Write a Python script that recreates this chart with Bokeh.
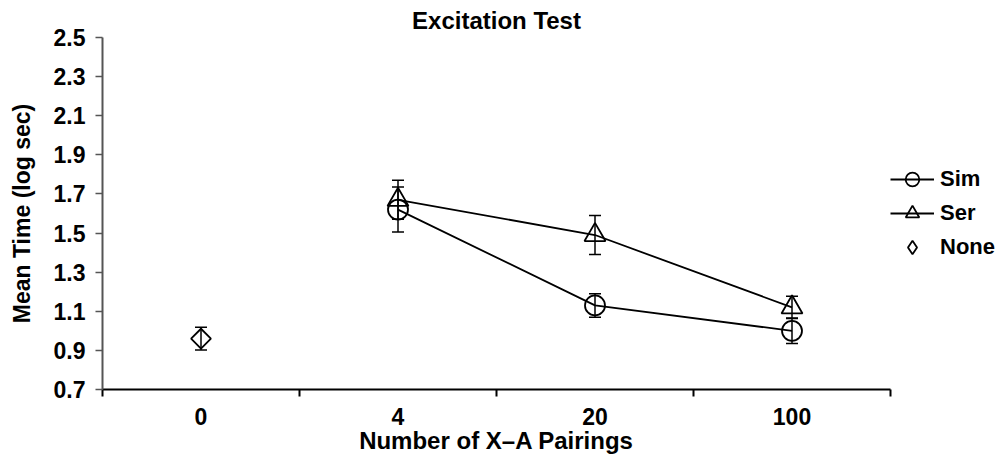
import math
from bokeh.plotting import figure
from bokeh.models import (Range1d, FixedTicker, PrintfTickFormatter, Whisker,
                          ColumnDataSource, Legend, LegendItem, TeeHead)
from bokeh.embed import file_html
from bokeh.resources import INLINE

categories = ["0", "4", "20", "100"]
sim_cats = ["4", "20", "100"]
sim_mean = [1.62, 1.13, 1.00]
sim_err = [0.115, 0.06, 0.065]
ser_cats = ["4", "20", "100"]
ser_mean = [1.67, 1.49, 1.12]
ser_err = [0.10, 0.10, 0.057]
none_cats = ["0"]
none_mean = [0.96]
none_err = [0.058]
y_ticks = [0.7, 0.9, 1.1, 1.3, 1.5, 1.7, 1.9, 2.1, 2.3, 2.5]

FONT = "Liberation Sans"
pos = {c: i + 0.5 for i, c in enumerate(categories)}


def src(cats, mean, err):
    return ColumnDataSource(dict(
        x=[pos[c] for c in cats], y=mean,
        upper=[m + e for m, e in zip(mean, err)],
        lower=[m - e for m, e in zip(mean, err)]))


s_sim = src(sim_cats, sim_mean, sim_err)
s_ser = src(ser_cats, ser_mean, ser_err)
s_none = src(none_cats, none_mean, none_err)

p = figure(frame_width=788, frame_height=352, output_backend="svg",
           toolbar_location=None,
           x_range=Range1d(0, len(categories)), y_range=Range1d(0.7, 2.5),
           min_border_left=102, min_border_right=105, min_border_top=8,
           min_border_bottom=72, title="Excitation Test")
p.outline_line_color = None
p.xgrid.visible = False
p.ygrid.visible = False

p.title.align = "center"
p.title.text_font = FONT
p.title.text_font_size = "24px"
p.title.text_font_style = "bold"
p.title.text_color = "black"
p.title.standoff = 8

# x axis
xa = p.xaxis[0]
xa.ticker = FixedTicker(ticks=[pos[c] for c in categories],
                        minor_ticks=list(range(len(categories) + 1)))
xa.major_label_overrides = {pos[c]: c for c in categories}
xa.major_tick_out = 0
xa.major_tick_in = 0
xa.minor_tick_out = 7
xa.minor_tick_in = 0
xa.minor_tick_line_color = "black"
xa.minor_tick_line_width = 2
xa.axis_line_color = "black"
xa.axis_line_width = 2
xa.major_label_text_font = FONT
xa.major_label_text_font_size = "23px"
xa.major_label_text_font_style = "bold"
xa.major_label_text_color = "black"
xa.major_label_standoff = 11
xa.axis_label = "Number of X\u2013A Pairings"
xa.axis_label_text_font = FONT
xa.axis_label_text_font_size = "24px"
xa.axis_label_text_font_style = "bold"
xa.axis_label_text_color = "black"
xa.axis_label_standoff = -1

# y axis
ya = p.yaxis[0]
ya.ticker = FixedTicker(ticks=y_ticks, minor_ticks=[])
ya.formatter = PrintfTickFormatter(format="%.1f")
ya.major_tick_out = 7
ya.major_tick_in = 0
ya.major_tick_line_color = "#555555"
ya.major_tick_line_width = 1.5
ya.axis_line_color = "#555555"
ya.axis_line_width = 2
ya.major_label_text_font = FONT
ya.major_label_text_font_size = "23px"
ya.major_label_text_font_style = "bold"
ya.major_label_text_color = "black"
ya.major_label_standoff = 10
ya.axis_label = "Mean Time (log sec)"
ya.axis_label_text_font = FONT
ya.axis_label_text_font_size = "23px"
ya.axis_label_text_font_style = "bold"
ya.axis_label_text_color = "black"
ya.axis_label_standoff = 16

# lines
l_sim = p.line("x", "y", source=s_sim, line_color="black", line_width=1.8)
l_ser = p.line("x", "y", source=s_ser, line_color="black", line_width=1.8)

# error bars
for s in (s_sim, s_ser, s_none):
    w = Whisker(base="x", upper="upper", lower="lower", source=s,
                line_color="black", line_width=1.5,
                upper_head=TeeHead(size=12, line_width=1.5, line_color="black"),
                lower_head=TeeHead(size=12, line_width=1.5, line_color="black"))
    p.add_layout(w)

m_sim = p.scatter("x", "y", source=s_sim, marker="circle", size=20,
                  fill_alpha=0, line_color="black", line_width=1.8)
m_ser = p.scatter("x", "y", source=s_ser, marker="triangle", size=21,
                  fill_alpha=0, line_color="black", line_width=1.8)
m_none = p.scatter("x", "y", source=s_none, marker="square", size=14,
                   angle=math.pi / 4, fill_alpha=0, line_color="black",
                   line_width=1.8)
# legend proxy (zero size on the plot) so the legend shows a diamond
m_none_leg = p.scatter("x", "y", source=s_none, marker="diamond", size=0,
                       fill_alpha=0, line_color="black", line_width=1.8)

legend = Legend(items=[
    LegendItem(label="Sim", renderers=[l_sim, m_sim]),
    LegendItem(label="Ser", renderers=[l_ser, m_ser]),
    LegendItem(label="None", renderers=[m_none_leg]),
], location="center_left", orientation="vertical")
legend.margin = 0
legend.padding = 0
legend.spacing = 0
legend.glyph_width = 44
legend.glyph_height = 34
legend.label_standoff = 6
legend.label_text_font = FONT
legend.label_text_font_size = "22px"
legend.label_text_font_style = "bold"
legend.label_text_color = "black"
legend.border_line_alpha = 0
legend.background_fill_alpha = 0
p.add_layout(legend, "right")

open("out.html", "w").write(file_html(p, INLINE))
